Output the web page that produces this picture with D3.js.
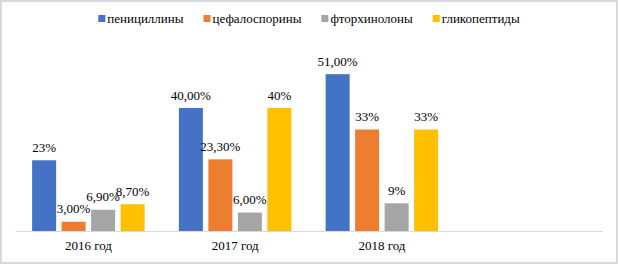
<!DOCTYPE html>
<html>
<head>
<meta charset="utf-8">
<script src="https://cdn.jsdelivr.net/npm/d3@7"></script>
<style>
  body { margin: 0; background: #fff; }
  svg text { font-family: "Liberation Serif", "Times New Roman", Times, "DejaVu Serif", serif; fill: #000; }
</style>
</head>
<body>
<div id="chart"></div>
<script>
var categories = ["2016 год", "2017 год", "2018 год", ""];
var series = ["пенициллины", "цефалоспорины", "фторхинолоны", "гликопептиды"];
var colors = ["#4472C4", "#ED7D31", "#A5A5A5", "#FFC000"];
// values per series, one entry per year
var penicillins = [23, 40, 51];
var cephalosporins = [3, 23.3, 33];
var fluoroquinolones = [6.9, 6, 9];
var glycopeptides = [8.7, 40, 33];
var labels = [
  ["23%", "40,00%", "51,00%"],
  ["3,00%", "23,30%", "33%"],
  ["6,90%", "6,00%", "9%"],
  ["8,70%", "40%", "33%"]
];
var values = [penicillins, cephalosporins, fluoroquinolones, glycopeptides];

var width = 619, height = 265;
var svg = d3.select("#chart").append("svg")
    .attr("width", width)
    .attr("height", height);

svg.append("rect")
    .attr("x", 1).attr("y", 1)
    .attr("width", 616).attr("height", 262)
    .attr("fill", "#fff")
    .attr("stroke", "#D9D9D9")
    .attr("stroke-width", 2);

var x0 = d3.scaleBand().domain(categories).range([15, 602]);
var groupW = 112.5;
var x1 = d3.scaleBand().domain(series).range([0, groupW]).paddingInner(0.186);
var y = d3.scaleLinear().domain([0, 60]).range([231, 46.5]);

var data = [];
for (var s = 0; s < series.length; s++) {
  for (var c = 0; c < values[s].length; c++) {
    data.push({cat: categories[c], ser: series[s], idx: s, value: values[s][c], label: labels[s][c]});
  }
}

function barX(d) {
  return x0(d.cat) + (x0.bandwidth() - groupW) / 2 + x1(d.ser);
}

svg.selectAll(".bar")
    .data(data)
    .enter().append("rect")
    .attr("class", "bar")
    .attr("x", barX)
    .attr("y", function(d) { return y(d.value); })
    .attr("width", x1.bandwidth())
    .attr("height", function(d) { return y(0) - y(d.value); })
    .attr("fill", function(d) { return colors[d.idx]; });

// x axis
var xAxis = svg.append("g")
    .attr("transform", "translate(0," + y(0) + ")")
    .call(d3.axisBottom(x0).tickSize(0).tickPadding(10));
xAxis.attr("font-family", null).attr("font-size", null);
xAxis.select(".domain").attr("stroke", "#D9D9D9").attr("stroke-width", 1);
xAxis.selectAll(".tick text")
    .style("font-size", "13px")
    .attr("fill", "#000");

svg.selectAll(".lbl")
    .data(data)
    .enter().append("text")
    .attr("class", "lbl")
    .attr("x", function(d) { return barX(d) + x1.bandwidth() / 2; })
    .attr("y", function(d) { return y(d.value) - 8.5; })
    .attr("text-anchor", "middle")
    .style("font-size", "13px")
    .text(function(d) { return d.label; });

// legend
var legend = svg.append("g").attr("transform", "translate(0,23)");
var items = legend.selectAll("g")
    .data(series)
    .enter().append("g");
items.append("rect")
    .attr("y", -8).attr("width", 7).attr("height", 7)
    .attr("fill", function(d, i) { return colors[i]; });
items.append("text")
    .attr("x", 9)
    .style("font-size", "13px")
    .text(function(d) { return d; });

var pos = 0, offsets = [];
items.each(function() {
  offsets.push(pos);
  pos += 9 + this.querySelector("text").getComputedTextLength() + 20;
});
var total = pos - 20;
var start = 309 - total / 2;
items.attr("transform", function(d, i) { return "translate(" + (start + offsets[i]) + ",0)"; });
</script>
</body>
</html>
